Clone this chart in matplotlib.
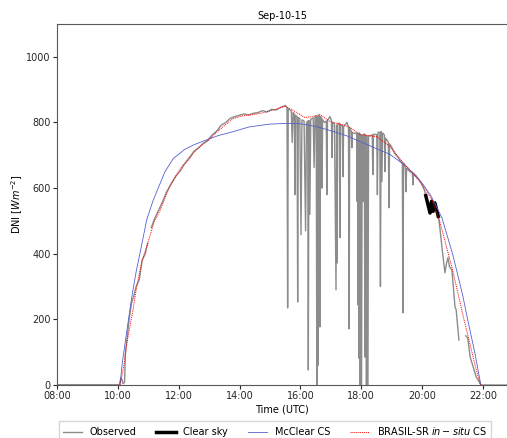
import numpy as np
import matplotlib
matplotlib.use('Agg')
import matplotlib.pyplot as plt

# Heure décimale (UTC) et valeurs en W/m2
obs_t = [8.0, 10.05, 10.10, 10.13, 10.17, 10.22, 10.25, 10.30, 10.37, 10.45, 10.52, 10.60, 10.70, 10.80,
         10.90, 10.98, 11.03, 11.10, 11.20, 11.30, 11.45, 11.60, 11.75, 11.90, 12.05, 12.20, 12.35,
         12.50, 12.65, 12.80, 12.95, 13.10, 13.25, 13.40, 13.55, 13.70, 13.85, 14.00, 14.15, 14.30,
         14.45, 14.60, 14.75, 14.90, 15.05, 15.20, 15.35, 15.45, 15.50,
         15.56, 15.58, 15.60, 15.70, 15.73, 15.76, 15.80, 15.82, 15.84, 15.89, 15.91, 15.93,
         15.98, 16.02, 16.05, 16.12, 16.17, 16.20, 16.24, 16.26, 16.28, 16.31, 16.34, 16.42, 16.45,
         16.48, 16.52, 16.54, 16.56, 16.58, 16.60, 16.62, 16.64, 16.66, 16.70, 16.71, 16.73, 16.80,
         16.85, 16.87, 16.89, 16.97, 17.02, 17.04, 17.06, 17.12, 17.17, 17.19, 17.21, 17.22, 17.24,
         17.28, 17.30, 17.32, 17.38, 17.40, 17.42, 17.53, 17.58, 17.60, 17.62, 17.67, 17.69, 17.71,
         17.80, 17.85, 17.86, 17.88, 17.89, 17.91, 17.92, 17.94, 17.96, 17.98, 18.01, 18.03, 18.06,
         18.08, 18.10, 18.12, 18.14, 18.16, 18.17, 18.19, 18.22, 18.24, 18.30, 18.36, 18.38, 18.40,
         18.51, 18.53, 18.55, 18.61, 18.63, 18.65, 18.68, 18.70, 18.76, 18.78, 18.80, 18.89, 18.91,
         18.93, 19.00, 19.10, 19.20, 19.30, 19.35, 19.37, 19.39, 19.45, 19.47, 19.49, 19.60, 19.68,
         19.70, 19.72, 19.80, 19.90, 20.00, 20.08, 20.12, 20.26, 20.31, 20.36, 20.42, 20.53, 20.55,
         20.59, 20.65, 20.75, 20.80, 20.85, 20.90, 20.98, 21.08, 21.12, 21.21, 21.30, 21.44, 21.50,
         21.58, 21.68, 21.78, 21.90, 21.94, 22.80]
obs_v = [1, 1, 22, 18, 4, 8, 100, 140, 200, 250, 270, 300, 320, 380,
         400, 432, np.nan, 480, 505, 525, 555, 588, 612, 636, 652, 675, 693,
         712, 722, 736, 745, 762, 774, 792, 800, 813, 818, 822, 826, 823,
         828, 830, 836, 832, 840, 838, 846, 849, 852,
         845, 235, 842, 835, 739, 830, 826, 580, 822, 818, 253, 815,
         812, 458, 808, 804, 470, 800, 804, 46, 806, 520, 810, 814, 663,
         818, 820, 0, 818, 60, 820, 822, 177, 818, 812, 600, 808, 800,
         804, 580, 806, 818, 806, 693, 800, 796, 290, 792, 372, 794, 796,
         798, 449, 794, 790, 635, 788, 800, 786, 171, 784, 774, 723, 770,
         766, 768, 560, 766, 244, 766, 82, 768, 0, 764, 0, 762, 559,
         764, 765, 85, 762, 760, 0, 760, 0, 758, 760, 762, 641, 764,
         763, 580, 770, 770, 300, 772, 620, 768, 762, 650, 752, 740, 540,
         735, 725, 705, 695, 680, 678, 220, 676, 662, 589, 660, 650, 648,
         610, 645, 638, 625, 610, 592, 577, 524, 560, 529, 555, 514, 505,
         473, 421, 342, 370, 388, 360, 351, 238, 229, 137, np.nan, 150, 143,
         85, 55, 24, 6, 0, 0]

cs_t = [20.12, 20.26, 20.31, 20.36, 20.42, 20.53]
cs_v = [577, 524, 560, 529, 555, 514]

mcc_t = [10.07, 10.15, 10.30, 10.46, 10.60, 10.73, 10.95, 11.15, 11.33, 11.55, 11.82, 12.20, 12.50,
         12.86, 13.30, 13.79, 14.30, 14.67, 15.00, 15.50, 16.00, 16.50, 17.07, 17.50, 17.96, 18.50,
         18.94, 19.50, 20.00, 20.30, 20.65, 21.00, 21.13, 21.33, 21.50, 21.74, 21.93]
mcc_v = [0, 70, 168, 269, 345, 403, 504, 560, 601, 650, 690, 718, 732,
         745, 760, 772, 786, 791, 795, 797, 796, 788, 773, 760, 742, 720,
         703, 665, 615, 575, 510, 400, 351, 275, 198, 95, 0]

bsr_t = [10.07, 10.20, 10.30, 10.50, 10.62, 10.80, 10.96, 11.20, 11.38, 11.70, 12.10, 12.27, 12.60,
         12.93, 13.30, 13.79, 14.10, 14.45, 14.80, 15.20, 15.49, 15.70, 16.15, 16.40, 16.64, 16.97,
         17.30, 17.63, 17.96, 18.51, 18.94, 19.37, 19.93, 20.32, 20.59, 21.00, 21.38, 21.78, 21.92]
bsr_v = [0, 60, 130, 230, 300, 380, 425, 500, 530, 605, 666, 680, 720,
         742, 775, 812, 820, 824, 830, 840, 850, 840, 815, 818, 824, 803,
         795, 785, 763, 757, 727, 678, 620, 565, 495, 351, 198, 46, 0]

hours = [8, 10, 12, 14, 16, 18, 20, 22]
hour_labels = ['%02d:00' % h for h in hours]

plt.rcParams['font.size'] = 7
fig = plt.figure(figsize=(5.07, 4.38), dpi=100)
ax = fig.add_axes([57 / 507, 53 / 438, 450 / 507, 361 / 438])

ax.plot(obs_t, obs_v, color='gray', lw=1.0, alpha=0.9, label='Observed')
ax.plot(cs_t, cs_v, color='black', lw=2.5, label='Clear sky')
ax.plot(mcc_t, mcc_v, color='#5560d0', lw=0.6, label='McClear CS')
ax.plot(bsr_t, bsr_v, color='red', lw=0.7, ls=(0, (1, 1)), label='BRASIL-SR $in-situ$ CS')

ax.set_xlim(8, 22.79)
ax.set_ylim(0, 1100)
ax.set_xticks(hours)
ax.set_xticklabels(hour_labels)
ax.set_yticks([0, 200, 400, 600, 800, 1000])
ax.spines['right'].set_visible(False)
for s in ['top', 'left', 'bottom']:
    ax.spines[s].set_color('0.35')
ax.tick_params(colors='0.15', length=3, pad=1.5)
ax.set_title('Sep-10-15', fontsize=7, pad=3.5)
ax.set_xlabel('Time (UTC)', labelpad=2)
ax.set_ylabel('DNI [$Wm^{-2}$]', labelpad=1)

fig.legend(loc='center', bbox_to_anchor=(275 / 507, 1 - 431 / 438), ncol=4, fontsize=7,
           frameon=True, fancybox=False, edgecolor='0.8', borderaxespad=0)

fig.savefig('out.png', dpi=100)
